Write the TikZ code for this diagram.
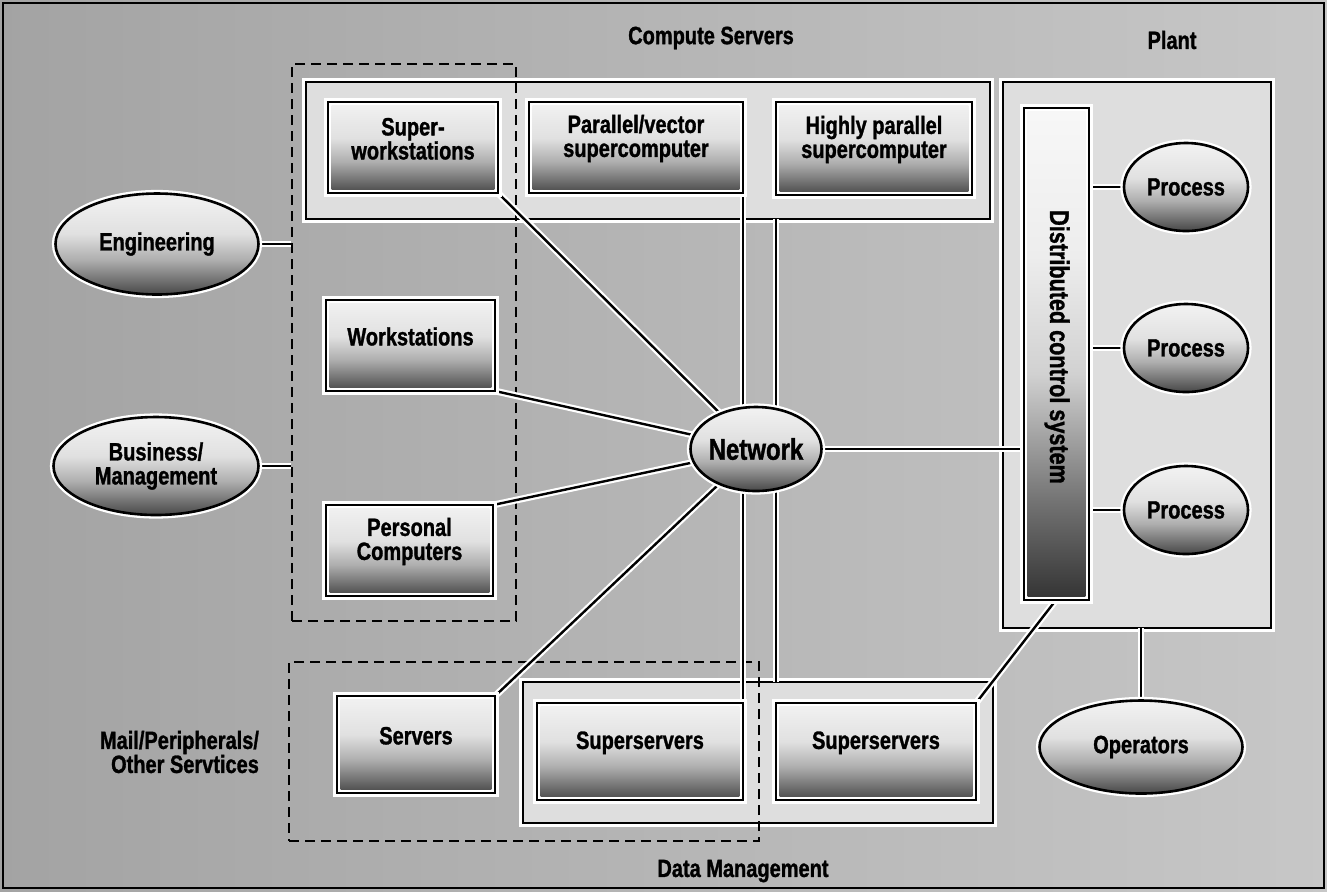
\documentclass[tikz,border=0pt]{standalone}
\usepackage{fontspec}
\newfontfamily\cond{Liberation Sans}[FakeStretch=0.8,BoldFeatures={FakeBold=1.2}]
\usetikzlibrary{shapes.geometric,fit}
\pgfdeclareverticalshading{boxshade}{100bp}{color(0bp)=(black!72); color(25bp)=(black!72); color(42bp)=(black!32); color(55bp)=(black!12); color(75bp)=(black!5); color(100bp)=(black!5)}
\pgfdeclareverticalshading{barshade}{100bp}{color(0bp)=(black!80); color(25bp)=(black!80); color(35bp)=(black!55); color(48bp)=(black!18); color(60bp)=(black!7); color(75bp)=(black!3); color(100bp)=(black!3)}
\tikzset{
  lbl/.style={font=\cond\bfseries\fontsize{12.5}{12}\selectfont},
  halo/.style={preaction={draw=white,line width=3.6pt}},
  outerbox/.style={draw=black,line width=1.3pt,fill=black!13,inner sep=0pt,halo},
  dbox/.style={draw=black,line width=1.3pt,fill=white,inner sep=0pt,align=center,lbl,halo,
    path picture={\shade[shading=boxshade] ([xshift=1.8pt,yshift=-1.8pt]path picture bounding box.north west) rectangle ([xshift=-1.8pt,yshift=1.8pt]path picture bounding box.south east);}},
  barbox/.style={draw=black,line width=1.3pt,fill=white,inner sep=0pt,halo,
    path picture={\shade[shading=barshade] ([xshift=1.8pt,yshift=-1.8pt]path picture bounding box.north west) rectangle ([xshift=-1.8pt,yshift=1.8pt]path picture bounding box.south east);}},
  oval/.style={ellipse,draw=black,line width=1.3pt,inner sep=0pt,align=center,lbl,halo,
    path picture={\shade[shading=boxshade] (path picture bounding box.north west) rectangle (path picture bounding box.south east);}},
  grp/.style={draw=black,line width=1.2pt,dash pattern=on 5pt off 3pt,inner sep=0pt},
  conn/.style={draw=black,line width=1.2pt,preaction={draw=white,line width=3.4pt}},
}
\begin{document}
\begin{tikzpicture}[x=0.5pt,y=-0.5pt]
\useasboundingbox (0,0) rectangle (1327,891);
\shade[left color=black!36,right color=black!22] (0,0) rectangle (1327,891);
\draw[line width=0.8pt] (3,3) rectangle (1324,888);

% outer solid boxes
\node[outerbox,fit={(306,82)(990,219)}] (compute) {};
\node[outerbox,fit={(1003,82)(1271,628)}] (plant) {};
\node[outerbox,fit={(523,682)(993,823)}] (data) {};

% dashed groups
\node[grp,fit={(292,64)(516,621)}] (grpA) {};
\node[grp,fit={(289,662)(759,841)}] (grpB) {};

\coordinate (netc) at (756,449);

% connectors
\draw[conn] (157+101.5,244) coordinate (engE) -- (engE -| grpA.west);
\draw[conn] (156+102.5,466) coordinate (busE) -- (busE -| grpA.west);
\draw[conn] (498,193) -- (netc);
\draw[conn] (495,391) -- (netc);
\draw[conn] (493,505) -- (netc);
\draw[conn] (495,696) -- (netc);
\draw[conn] (743,193) -- (743,449);
\draw[conn] (776,219) -- (776,449);
\draw[conn] (743,449) -- (743,800);
\draw[conn] (776,449) -- (776,682);
\draw[conn] (netc) -- (1024,449);
\draw[conn] (1089,187) -- (1124,187);
\draw[conn] (1089,348) -- (1124,348);
\draw[conn] (1089,510) -- (1124,510);
\draw[conn] (1141,628) -- (1141,700);
\draw[conn] (1056,600) -- (976,703);

% boxes
\node[dbox,fit={(328,102)(498,193)}] (sw) {Super-\\workstations};
\node[dbox,fit={(529,102)(743,193)}] (pv) {Parallel/vector\\supercomputer};
\node[dbox,fit={(776,102)(972,195)}] (hp) {Highly parallel\\supercomputer};
\node[dbox,fit={(326,300)(495,391)}] (ws) {Workstations};
\node[dbox,fit={(326,505)(493,596)}] (pc) {Personal\\Computers};
\node[dbox,fit={(337,696)(495,793)}] (srv) {Servers};
\node[dbox,fit={(537,703)(743,800)}] (ss1) {Superservers};
\node[dbox,fit={(776,703)(976,800)}] (ss2) {Superservers};
\node[barbox,fit={(1024,108)(1089,600)}] (dcs) {};
\node[lbl,rotate=-90,font=\cond\bfseries\fontsize{13.5}{13}\selectfont] (dcstext) at (1057,347) {Distributed control system};

% ellipses
\node[oval,minimum width=101.5pt,minimum height=50.5pt] (eng) at (157,244) {Engineering};
\node[oval,minimum width=102.5pt,minimum height=49pt] (bus) at (156,466) {Business/\\Management};
\node[oval,minimum width=65.5pt,minimum height=42pt,inner xsep=-3pt,font=\cond\bfseries\fontsize{15}{15}\selectfont] (net) at (netc) {Network};
\node[oval,minimum width=62pt,minimum height=44pt] (p1) at (1186,187) {Process};
\node[oval,minimum width=62pt,minimum height=44pt] (p2) at (1186,348) {Process};
\node[oval,minimum width=62pt,minimum height=44pt] (p3) at (1186,510) {Process};
\node[oval,minimum width=101.5pt,minimum height=46.5pt] (ops) at (1141,747) {Operators};

% titles
\node[lbl] (tcs) at (711,38) {Compute Servers};
\node[lbl] (tpl) at (1172,40) {Plant};
\node[lbl] (tdm) at (743,871) {Data Management};
\node[lbl,align=right,anchor=east] (tmail) at (266,752) {Mail/Peripherals/\\Other Servtices};
\end{tikzpicture}
\end{document}
